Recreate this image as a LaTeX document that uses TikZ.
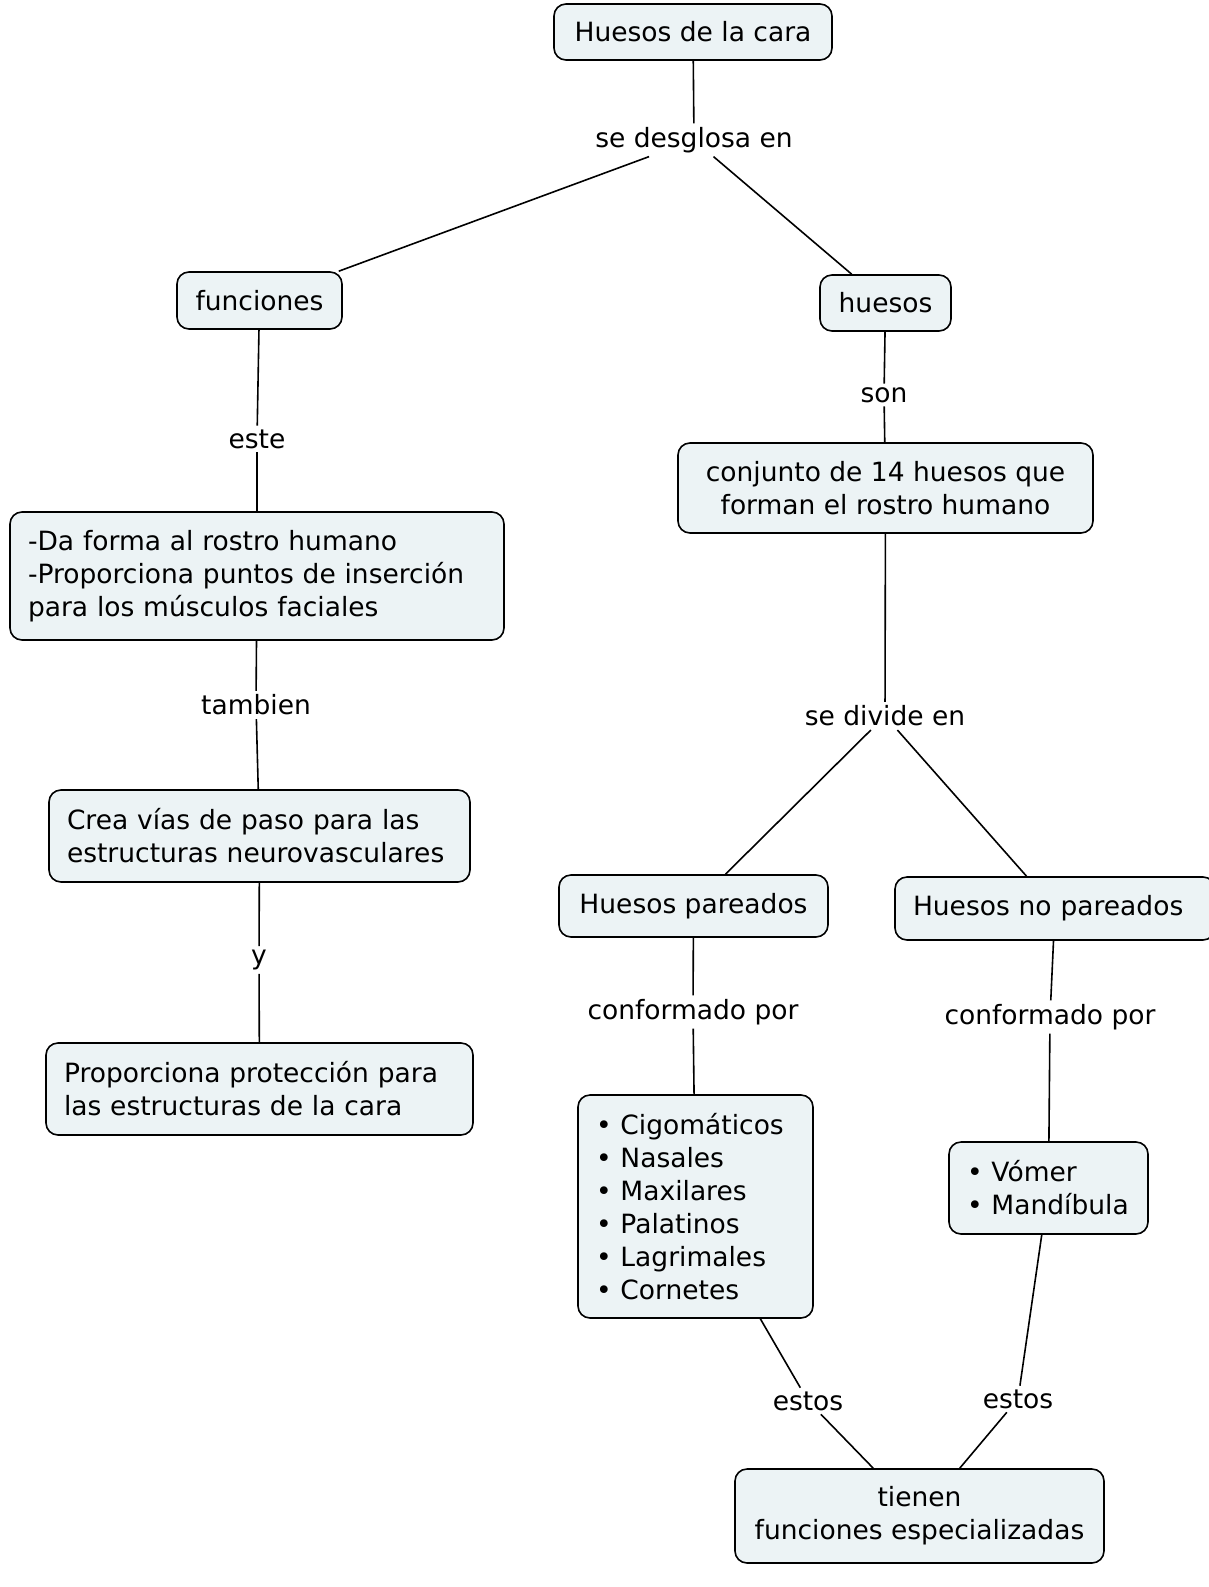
\documentclass[tikz,border=0pt]{standalone}
\usepackage{fontspec}
\setmainfont{DejaVu Sans}
\definecolor{cfill}{RGB}{236,243,245}
\begin{document}
\begin{tikzpicture}[x=1pt, y=-1pt,
        box/.style={draw, line width=1.6pt, fill=cfill, rounded corners=12pt, inner xsep=18pt, inner ysep=0pt},
        lbox/.style={box, align=left},
        phr/.style={inner sep=3pt},
        every node/.style={font=\fontsize{26.5}{33}\selectfont},
        every path/.style={line width=1.6pt}]
        \useasboundingbox (0,0) rectangle (1208,1587);

        \node[box, minimum width=278pt, minimum height=56pt] (cara) at (693,32) {Huesos de la cara};
        \node[box, minimum width=165pt, minimum height=57pt] (func) at (259.5,300.5) {funciones};
        \node[box, minimum width=131pt, minimum height=56pt] (hues) at (885.5,303) {huesos};
        \node[box, align=center, minimum width=415pt, minimum height=90pt] (conj) at (885.5,488) {conjunto de 14 huesos que\\forman el rostro humano};
        \node[lbox, text width=458pt, minimum height=128pt] (forma) at (257,576) {-Da forma al rostro humano\\-Proporciona puntos de inserción\\para los músculos faciales};
        \node[lbox, text width=385pt, minimum height=92pt] (crea) at (259.5,836) {Crea vías de paso para las\\estructuras neurovasculares};
        \node[lbox, text width=391pt, minimum height=92pt] (prot) at (259.5,1089) {Proporciona protección para\\las estructuras de la cara};
        \node[box, minimum width=269pt, minimum height=62pt] (par) at (693.5,906) {Huesos pareados};
        \node[lbox, text width=284pt, minimum height=63pt] (nopar) at (1055,908.5) {Huesos no pareados};
        \node[lbox, text width=199pt, minimum height=223pt] (lista) at (695.5,1206.5) {• Cigomáticos\\• Nasales\\• Maxilares\\• Palatinos\\• Lagrimales\\• Cornetes};
        \node[lbox, text width=163pt, minimum height=92pt] (vom) at (1048.5,1188) {• Vómer\\• Mandíbula};
        \node[box, align=center, minimum width=369pt, minimum height=94pt] (tien) at (919.5,1516) {tienen\\funciones especializadas};

        \node[phr] (desg) at (694,140) {se desglosa en};
        \node[phr] (este) at (257,439) {este};
        \node[phr] (son) at (884,395) {son};
        \node[phr] (tamb) at (256,705) {tambien};
        \node[phr] (divi) at (885,716) {se divide en};
        \node[phr] (y) at (259,960) {y};
        \node[phr] (conf1) at (693,1012) {conformado por};
        \node[phr] (conf2) at (1050,1017) {conformado por};
        \node[phr] (est1) at (808,1401) {estos};
        \node[phr] (est2) at (1018,1399) {estos};

        \draw (cara) -- (desg);
        \draw (desg) -- (func);
        \draw (desg) -- (hues);
        \draw (func) -- (este);
        \draw (este) -- (forma);
        \draw (forma) -- (tamb);
        \draw (tamb) -- (crea);
        \draw (crea) -- (y);
        \draw (y) -- (prot);
        \draw (hues) -- (son);
        \draw (son) -- (conj);
        \draw (conj) -- (divi);
        \draw (divi) -- (par);
        \draw (divi) -- (nopar);
        \draw (par) -- (conf1);
        \draw (conf1) -- (lista);
        \draw (nopar) -- (conf2);
        \draw (conf2) -- (vom);
        \draw (lista) -- (est1);
        \draw (est1) -- (tien);
        \draw (vom) -- (est2);
        \draw (est2) -- (tien);
\end{tikzpicture}
\end{document}
